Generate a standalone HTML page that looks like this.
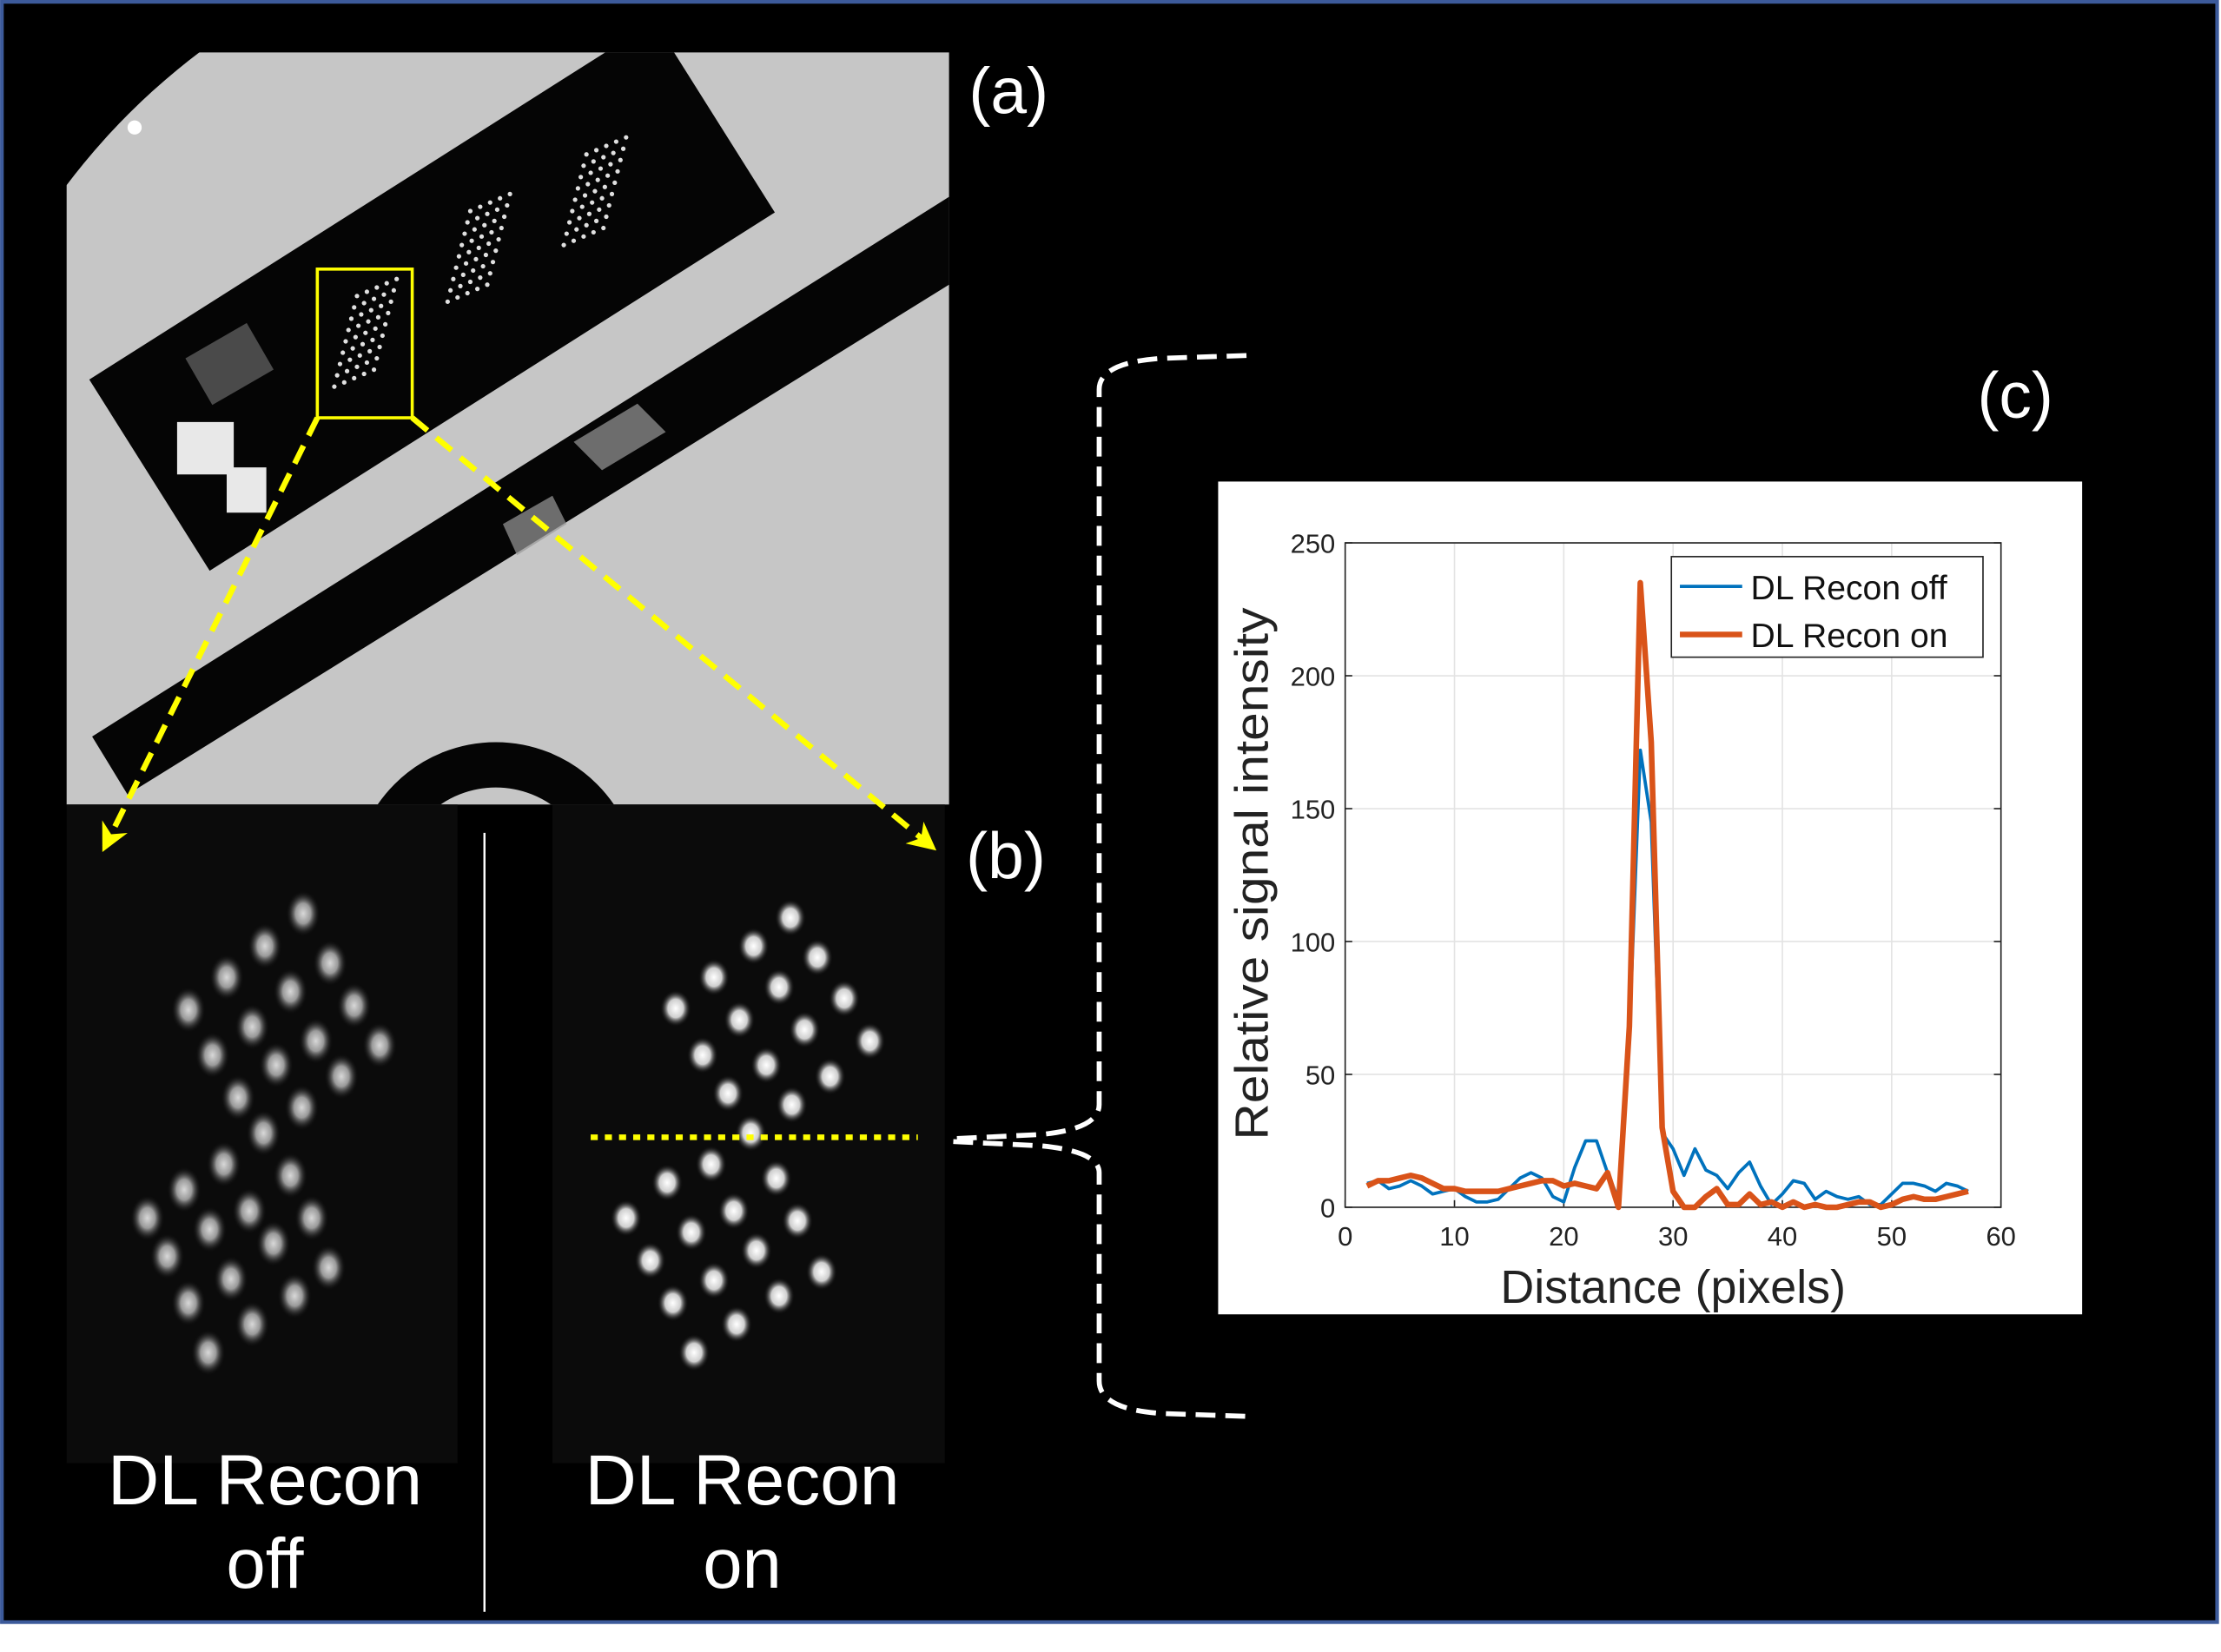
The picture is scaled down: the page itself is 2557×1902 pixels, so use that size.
<!DOCTYPE html>
<html><head><meta charset="utf-8"><style>
html,body{margin:0;padding:0;background:#fff;}
svg{display:block;}
text{font-family:"Liberation Sans",Arial,sans-serif;}
</style></head><body>
<svg id="fig" width="2557" height="1902" viewBox="0 0 1568 1166.4" xmlns="http://www.w3.org/2000/svg">
<defs>
<radialGradient id="dotOff"><stop offset="0" stop-color="#d8d8d8"/><stop offset="0.45" stop-color="#9a9a9a"/><stop offset="1" stop-color="#111" stop-opacity="0"/></radialGradient>
<radialGradient id="dotOn"><stop offset="0" stop-color="#ffffff"/><stop offset="0.5" stop-color="#cfcfcf"/><stop offset="1" stop-color="#0a0a0a" stop-opacity="0"/></radialGradient>
<clipPath id="clipA"><rect x="47" y="37" width="623" height="531"/></clipPath>
<marker id="arrowY" viewBox="0 0 10 10" refX="8" refY="5" markerWidth="5" markerHeight="5" orient="auto"><path d="M0,0 L10,5 L0,10 L3,5 z" fill="#ffff00"/></marker>
</defs>
<rect x="1.3" y="1.3" width="1564" height="1144" fill="#000" stroke="#3c5a9a" stroke-width="2.6"/>

<!-- panel (a) -->
<g clip-path="url(#clipA)">
  <rect x="47" y="37" width="623" height="531" fill="#000"/>
  <circle cx="430" cy="420" r="480" fill="#c6c6c6"/>
  <polygon points="63,268 148,403 547,150 462,15" fill="#050505"/>
  <polygon points="65,520 90,561 670,201 670,139" fill="#050505"/>
  <polygon points="405,312 450,285 470,305 425,332" fill="#9a9a9a" opacity="0.7"/>
  <polygon points="355,370 390,350 400,370 365,392" fill="#9a9a9a" opacity="0.7"/>
  <circle cx="350" cy="625" r="85" fill="none" stroke="#050505" stroke-width="32"/>
  <rect x="137" y="238" width="50" height="38" fill="#4a4a4a" transform="rotate(-30 162 257)"/>
  <path d="M125,298 L165,298 L165,330 L188,330 L188,362 L160,362 L160,335 L125,335 z" fill="#e8e8e8"/>
  <circle cx="95" cy="90" r="5" fill="#fff"/>
  <g id="tinyDots" fill="#e0e0e0"></g>
</g>
<text x="684" y="80" font-size="46" fill="#fff">(a)</text>

<!-- panel (b) -->
<rect x="47" y="568" width="276" height="465" fill="#0b0b0b"/>
<rect x="390" y="568" width="277" height="465" fill="#0b0b0b"/>
<g id="dotsOff"></g>
<g id="dotsOn"></g>
<line x1="342" y1="588" x2="342" y2="1138" stroke="#fff" stroke-width="1.5"/>
<text x="187" y="1062" font-size="50" fill="#fff" text-anchor="middle" textLength="222" lengthAdjust="spacingAndGlyphs">DL Recon</text>
<text x="187" y="1121" font-size="50" fill="#fff" text-anchor="middle">off</text>
<text x="524" y="1062" font-size="50" fill="#fff" text-anchor="middle" textLength="222" lengthAdjust="spacingAndGlyphs">DL Recon</text>
<text x="524" y="1121" font-size="50" fill="#fff" text-anchor="middle">on</text>
<text x="682" y="620" font-size="46" fill="#fff">(b)</text>

<!-- yellow annotations -->
<rect x="224" y="190" width="67" height="105" fill="none" stroke="#ffff00" stroke-width="2.2"/>
<line x1="224" y1="295" x2="74" y2="598" stroke="#ffff00" stroke-width="4" stroke-dasharray="14,8" marker-end="url(#arrowY)"/>
<line x1="291" y1="295" x2="658" y2="598" stroke="#ffff00" stroke-width="4" stroke-dasharray="14,8" marker-end="url(#arrowY)"/>
<line x1="417" y1="803" x2="648" y2="803" stroke="#ffff00" stroke-width="4" stroke-dasharray="5,5"/>

<!-- brace -->
<path d="M880,251 L820,253 Q776,256 776,275 L776,780 Q776,797 735,801 L673,804" fill="none" stroke="#fff" stroke-width="3.5" stroke-dasharray="14,7"/>
<path d="M673,806 L735,809 Q776,813 776,828 L776,975 Q776,995 820,998 L880,1000" fill="none" stroke="#fff" stroke-width="3.5" stroke-dasharray="14,7"/>
<text x="1396" y="295" font-size="46" fill="#fff">(c)</text>

<!-- chart -->
<rect x="860" y="340" width="610" height="588" fill="#fff"/>
<g id="chart"></g>
</svg>
<script>
const xTicks = [0,10,20,30,40,50,60];
const yTicks = [0,50,100,150,200,250];
const xOff = [2,3,4,5,6,7,8,9,10,11,12,13,14,15,16,17,18,19,20,21,22,23,24,25,26,27,28,29,30,31,32,33,34,35,36,37,38,39,40,41,42,43,44,45,46,47,48,49,50,51,52,53,54,55,56,57];
const offValues = [9,10,7,8,10,8,5,6,7,4,2,2,3,7,11,13,11,4,2,15,25,25,13,3,65,172,145,28,22,12,22,14,12,7,13,17,8,1,5,10,9,3,6,4,3,4,1,1,5,9,9,8,6,9,8,6];
const onValues = [8,10,10,11,12,11,9,7,7,6,6,6,6,7,8,9,10,10,8,9,8,7,13,0,68,235,175,30,6,0,0,4,7,1,1,5,1,2,0,2,0,1,0,0,1,2,2,0,1,3,4,3,3,4,5,6];
const seriesNames = ["DL Recon off","DL Recon on"];

const NS = "http://www.w3.org/2000/svg";
const X0=949.7, X1=1412.7, Y0=852.4, Y1=383.3;
function sx(v){return X0+(v-0)/(60-0)*(X1-X0);}
function sy(v){return Y0-(v-0)/(250-0)*(Y0-Y1);}
function mk(tag, attrs, parent){const e=document.createElementNS(NS,tag);for(const k in attrs)e.setAttribute(k,attrs[k]);parent.appendChild(e);return e;}
const ch=document.getElementById('chart');

xTicks.forEach(t=>{
  const g=mk('line',{x1:sx(t),x2:sx(t),y1:Y1,y2:Y0,stroke:'#e3e3e3','stroke-width':1},ch);
  
  
  const tk=mk('line',{x1:sx(t),x2:sx(t),y1:Y0,y2:Y0-5,stroke:'#222','stroke-width':1},ch);
  
  
  const lb=mk('text',{x:sx(t),y:Y0+27,'font-size':19,'text-anchor':'middle',fill:'#222'},ch);
  lb.textContent=t;
  
  
});
yTicks.forEach(t=>{
  const g=mk('line',{x1:X0,x2:X1,y1:sy(t),y2:sy(t),stroke:'#e3e3e3','stroke-width':1},ch);
  
  
  const tk=mk('line',{x1:X0,x2:X0+5,y1:sy(t),y2:sy(t),stroke:'#222','stroke-width':1},ch);
  
  
  const tk2=mk('line',{x1:X1,x2:X1-5,y1:sy(t),y2:sy(t),stroke:'#222','stroke-width':1},ch);
  
  
  const lb=mk('text',{x:X0-7,y:sy(t)+7,'font-size':19,'text-anchor':'end',fill:'#222'},ch);
  lb.textContent=t;
  
  
});
const box=mk('rect',{x:X0,y:Y1,width:X1-X0,height:Y0-Y1,fill:'none',stroke:'#222','stroke-width':1},ch);



function poly(vals,color,w,name){
  const p=mk('polyline',{points:vals.map((v,i)=>sx(xOff[i])+','+sy(v)).join(' '),fill:'none',stroke:color,'stroke-width':w,'stroke-linejoin':'round'},ch);
  
  
}
poly(offValues,'#0072BD',2.3,'series-dl-recon-off');
poly(onValues,'#D95319',4,'series-dl-recon-on');

const xl=mk('text',{x:(X0+X1)/2,y:920,'font-size':33,'text-anchor':'middle',fill:'#222'},ch);
xl.textContent='Distance (pixels)';


const yl=mk('text',{x:0,y:0,'font-size':33,'text-anchor':'middle',fill:'#222',transform:'translate(895,617) rotate(-90)',textLength:376,lengthAdjust:'spacingAndGlyphs'},ch);
yl.textContent='Relative signal intensity';



const lg=mk('rect',{x:1180,y:393,width:220,height:71,fill:'#fff',stroke:'#222','stroke-width':1},ch);


[['#0072BD',2.3,414],['#D95319',4,448]].forEach((s,i)=>{
  const l=mk('line',{x1:1186,x2:1230,y1:s[2],y2:s[2],stroke:s[0],'stroke-width':s[1]},ch);
  
  
  const t=mk('text',{x:1236,y:s[2]+9,'font-size':24,fill:'#111'},ch);
  t.textContent=seriesNames[i];
  
  
});

// decorative image dots
const offDots=[[214,645],[187,668],[233,680],[160,690],[205,700],[250,710],[133,713],[178,725],[223,735],[268,738],[150,745],[195,752],[241,760],[168,775],[213,782],[186,800],[158,822],[205,830],[130,840],[176,855],[220,860],[104,860],[148,868],[193,878],[118,887],[163,903],[232,895],[208,915],[133,920],[178,935],[147,955]];
const onDots=[[558,648],[532,668],[577,676],[504,690],[550,697],[596,705],[477,712],[522,720],[568,727],[614,735],[496,745],[541,752],[586,760],[514,772],[559,780],[530,800],[502,822],[548,832],[471,835],[518,855],[442,860],[563,862],[488,870],[534,883],[459,890],[580,898],[504,904],[550,915],[475,920],[520,935],[490,955]];
const gOff=document.getElementById('dotsOff'), gOn=document.getElementById('dotsOn');
offDots.forEach(d=>{const e=mk('ellipse',{cx:d[0],cy:d[1],rx:12,ry:16,fill:'url(#dotOff)'},gOff);
  
  });
onDots.forEach(d=>{const e=mk('ellipse',{cx:d[0],cy:d[1],rx:11,ry:13,fill:'url(#dotOn)'},gOn);
  
  });
const tg=document.getElementById('tinyDots');
[[258,235],[338,175],[420,135]].forEach(c=>{
  for(let r=-4;r<=4;r++)for(let k=-2;k<=2;k++){
    const e=mk('circle',{cx:c[0]+k*7+r*-2,cy:c[1]+r*8+k*-3,r:1.6},tg);
    
    
  }
});
</script>
</body></html>
